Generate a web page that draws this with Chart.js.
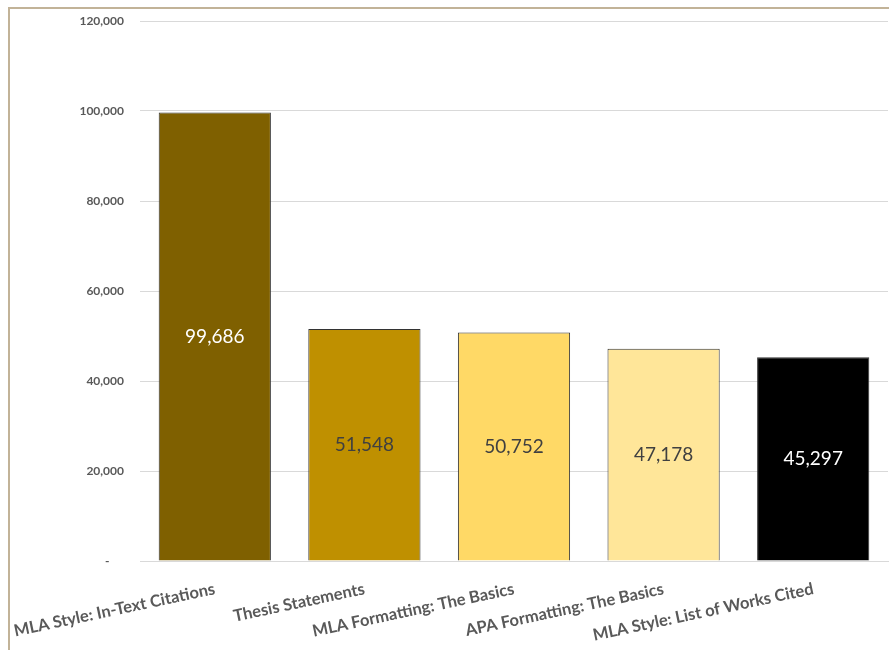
<!DOCTYPE html>
<html>
<head>
<meta charset="utf-8">
<script src="https://cdn.jsdelivr.net/npm/chart.js@4/dist/chart.umd.min.js"></script>
<style>
    html, body { margin: 0; padding: 0; background: #fff; overflow: hidden; }
    #frame {
        position: absolute;
        left: 8px;
        top: 7px;
        width: 881px;
        height: 643px;
        border-left: 2px solid #c2b398;
        border-top: 2px solid #c2b398;
    }
    #chartBox { position: absolute; left: 0; top: 0; width: 879px; height: 641px; }
</style>
</head>
<body>
<div id="frame">
    <div id="chartBox"><canvas id="pageChart"></canvas></div>
</div>
<script>
const pages = [
    'MLA Style: In-Text Citations',
    'Thesis Statements',
    'MLA Formatting: The Basics',
    'APA Formatting: The Basics',
    'MLA Style: List of Works Cited'
];
const views = [99686, 51548, 50752, 47178, 45297];
const yTicks = [0, 20000, 40000, 60000, 80000, 100000, 120000];

const barColors = ['#7f6000', '#bf9000', '#ffd966', '#ffe699', '#000000'];
const labelColors = ['#ffffff', '#404040', '#404040', '#404040', '#ffffff'];

// draws the value in the middle of each bar
const barValueLabels = {
    id: 'barValueLabels',
    afterDatasetsDraw(chart) {
        const ctx = chart.ctx;
        const meta = chart.getDatasetMeta(0);
        ctx.save();
        ctx.font = '19px Lato, "Open Sans", sans-serif';
        ctx.textAlign = 'center';
        ctx.textBaseline = 'middle';
        meta.data.forEach((bar, i) => {
            const mid = (bar.y + bar.base) / 2;
            ctx.fillStyle = labelColors[i];
            ctx.fillText(views[i].toLocaleString('en-US'), bar.x, mid);
        });
        ctx.restore();
    }
};

const ctx = document.getElementById('pageChart').getContext('2d');

new Chart(ctx, {
    type: 'bar',
    data: {
        labels: pages,
        datasets: [{
            data: views,
            backgroundColor: barColors,
            borderColor: '#333333',
            borderWidth: 1,
            categoryPercentage: 0.75,
            barPercentage: 1.0
        }]
    },
    options: {
        responsive: true,
        maintainAspectRatio: false,
        animation: false,
        layout: {
            padding: { top: 12, right: 1, left: 0, bottom: 0 }
        },
        plugins: {
            legend: { display: false },
            tooltip: { enabled: false }
        },
        scales: {
            x: {
                grid: { display: false, drawTicks: false },
                border: { display: true, color: '#d9d9d9', width: 1 },
                ticks: {
                    color: '#595959',
                    font: { family: 'Lato, "Open Sans", sans-serif', size: 16.5, weight: 'bold' },
                    maxRotation: 12,
                    minRotation: 12,
                    padding: 18,
                    autoSkip: false
                },
                afterFit(scale) {
                    scale.height = 89;
                    scale.paddingLeft = 0;
                    scale.paddingRight = 0;
                }
            },
            y: {
                min: 0,
                max: 120000,
                afterBuildTicks(scale) {
                    scale.ticks = yTicks.map(v => ({ value: v }));
                },
                grid: { color: '#d9d9d9', lineWidth: 1, drawTicks: false },
                border: { display: false },
                ticks: {
                    color: '#595959',
                    font: { family: 'Lato, "Open Sans", sans-serif', size: 12, weight: 'bold' },
                    padding: 16,
                    callback: function(value) {
                        return value === 0 ? '-     ' : value.toLocaleString('en-US');
                    }
                },
                afterFit(scale) {
                    scale.width = 130;
                    scale.paddingTop = 0;
                    scale.paddingBottom = 0;
                }
            }
        }
    },
    plugins: [barValueLabels]
});
</script>
</body>
</html>
